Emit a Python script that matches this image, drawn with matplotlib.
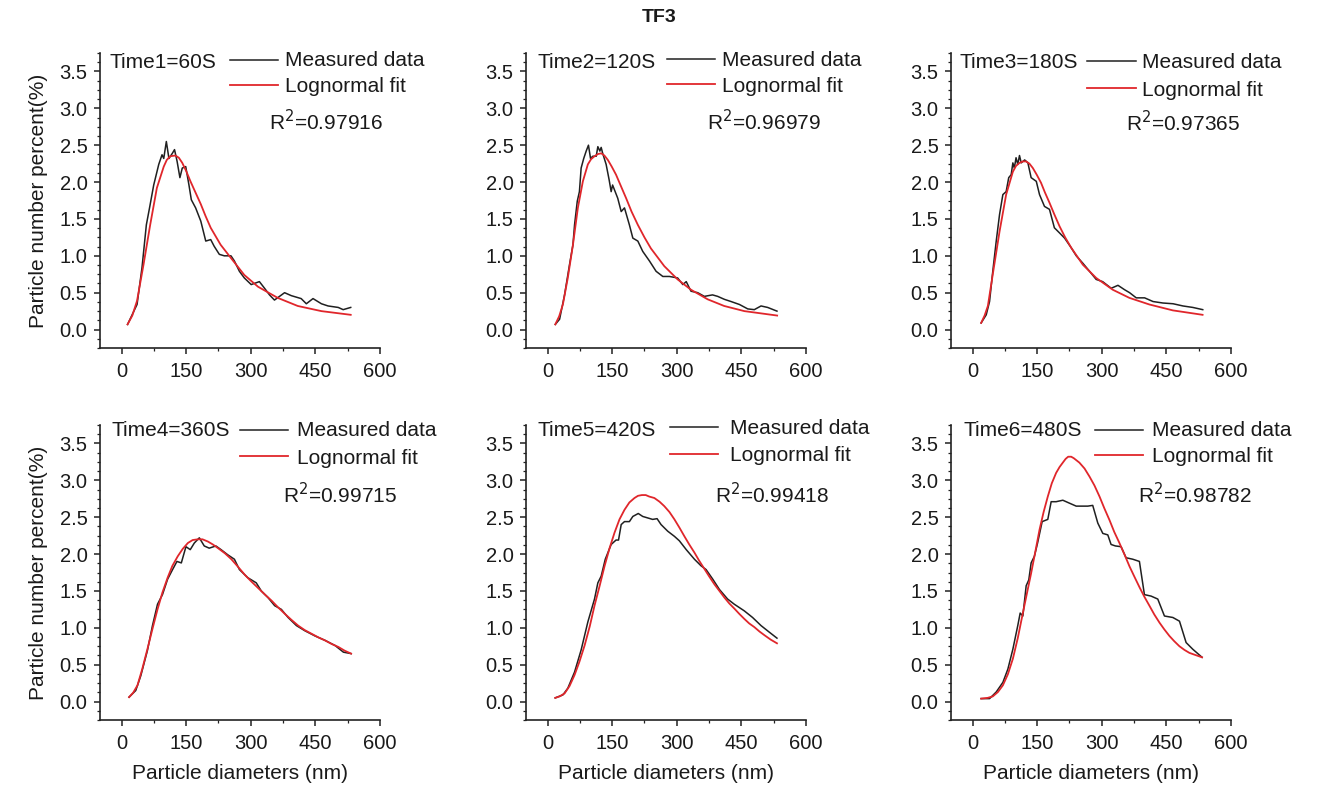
import matplotlib
matplotlib.use("Agg")
import matplotlib.pyplot as plt
from matplotlib.lines import Line2D
from matplotlib.ticker import MultipleLocator

plt.rcParams['font.family'] = ['Liberation Sans', 'DejaVu Sans']

W, H = 1318, 789

# ---------------- data ----------------
time_labels = ["Time1=60S", "Time2=120S", "Time3=180S", "Time4=360S", "Time5=420S", "Time6=480S"]
r2_values = ["0.97916", "0.96979", "0.97365", "0.99715", "0.99418", "0.98782"]

m1_x = [14, 36, 47.5, 57.6, 65, 74.7, 86.4, 94, 98, 104, 110, 118, 123, 129, 135.5, 141, 149, 156.5, 162, 172, 184,
        195.5, 207, 215, 227, 238.5, 254, 262, 273.6, 285, 301, 320, 332, 343.5, 355, 378.5, 394, 417, 429, 444.5,
        464, 479.5, 503, 514.5, 532]
m1_y = [0.07, 0.34, 0.84, 1.42, 1.65, 1.96, 2.24, 2.37, 2.32, 2.55, 2.32, 2.39, 2.44, 2.28, 2.06, 2.19, 2.21, 1.96,
        1.76, 1.65, 1.47, 1.20, 1.22, 1.13, 1.02, 1.00, 1.00, 0.93, 0.79, 0.70, 0.61, 0.65, 0.56, 0.47, 0.40, 0.50,
        0.46, 0.42, 0.35, 0.42, 0.35, 0.32, 0.30, 0.27, 0.30]
f1_x = [14, 25, 36, 51, 66.5, 82, 98, 105, 113, 125, 133, 141, 150, 160, 170, 184, 195, 207, 230, 254, 285, 317,
        362.5, 409, 464, 532]
f1_y = [0.07, 0.19, 0.39, 0.88, 1.42, 1.92, 2.21, 2.30, 2.35, 2.36, 2.33, 2.26, 2.15, 2.01, 1.88, 1.70, 1.54, 1.38,
        1.15, 0.97, 0.74, 0.58, 0.43, 0.32, 0.25, 0.20]

m2_x = [18, 28, 39.5, 51, 59, 62.7, 69, 74, 78, 84, 89.7, 95, 99.8, 105, 113, 116.8, 121.5, 124.5, 128, 136, 143,
        147.7, 151, 163, 171, 178.6, 190, 198, 209.6, 221, 236.6, 252, 267.6, 283, 302, 314, 322, 333, 348.6, 364,
        383, 395, 410.5, 426, 445.5, 464.8, 480, 495.6, 511, 532.6]
m2_y = [0.07, 0.14, 0.47, 0.88, 1.15, 1.42, 1.74, 1.87, 2.19, 2.32, 2.42, 2.50, 2.32, 2.35, 2.35, 2.48, 2.42, 2.47,
        2.39, 2.24, 2.03, 1.87, 1.96, 1.78, 1.60, 1.65, 1.42, 1.24, 1.20, 1.06, 0.93, 0.79, 0.72, 0.72, 0.70, 0.61,
        0.65, 0.52, 0.50, 0.45, 0.47, 0.45, 0.41, 0.38, 0.34, 0.28, 0.27, 0.32, 0.30, 0.25]
f2_x = [18, 27, 35.6, 47, 59, 70.4, 82, 93.6, 101, 109, 117, 124.5, 132, 140, 149, 159, 170, 182.5, 195, 209.6,
        225, 240, 271, 302, 333, 371.8, 410, 457, 533]
f2_y = [0.07, 0.18, 0.34, 0.70, 1.15, 1.65, 2.01, 2.24, 2.31, 2.35, 2.38, 2.39, 2.36, 2.30, 2.21, 2.10, 1.95, 1.78,
        1.60, 1.42, 1.25, 1.10, 0.86, 0.68, 0.54, 0.41, 0.32, 0.25, 0.19]

m3_x = [20, 31.8, 39.5, 47, 55, 62.7, 70.4, 78, 84, 89.7, 93.6, 97, 101, 105, 109, 113, 121, 128.5, 136, 148, 155.5,
        167, 178.6, 190, 202, 213.7, 229, 240.8, 256, 271.6, 287, 302, 322, 337.6, 353, 364.6, 380, 399.5, 419, 442,
        465.5, 488.5, 511.4, 534.4]
m3_y = [0.09, 0.20, 0.38, 0.79, 1.20, 1.56, 1.83, 1.87, 2.06, 2.10, 2.26, 2.19, 2.33, 2.24, 2.36, 2.26, 2.30, 2.26,
        2.06, 2.01, 1.83, 1.67, 1.63, 1.38, 1.31, 1.24, 1.11, 1.00, 0.90, 0.79, 0.68, 0.65, 0.56, 0.60, 0.54, 0.50,
        0.43, 0.43, 0.38, 0.36, 0.35, 0.32, 0.30, 0.27]
f3_x = [20, 28, 35.6, 47, 62.7, 78, 93.6, 101, 109, 117, 124.5, 132, 140, 149, 159, 168, 178.6, 190, 202, 215, 229,
        256, 287, 325.5, 364, 410.5, 465, 534]
f3_y = [0.09, 0.19, 0.32, 0.75, 1.33, 1.83, 2.14, 2.22, 2.26, 2.28, 2.28, 2.25, 2.19, 2.10, 1.99, 1.86, 1.72, 1.56,
        1.40, 1.25, 1.11, 0.88, 0.70, 0.54, 0.43, 0.34, 0.26, 0.20]

m4_x = [17.5, 33, 44.7, 60, 71.8, 83.5, 95, 107, 118.5, 128.6, 138.8, 149.5, 159.5, 169, 180.6, 192, 203.5, 219,
        231, 246.6, 262, 273.6, 293, 312.7, 324.4, 340, 355.5, 371, 386.6, 406, 425.6, 449, 472.4, 495.7, 515, 533]
m4_y = [0.06, 0.15, 0.35, 0.69, 1.03, 1.32, 1.45, 1.66, 1.79, 1.90, 1.88, 2.10, 2.06, 2.15, 2.22, 2.11, 2.08, 2.11,
        2.06, 1.99, 1.93, 1.79, 1.68, 1.61, 1.50, 1.41, 1.30, 1.25, 1.14, 1.03, 0.96, 0.89, 0.83, 0.76, 0.67, 0.65]
f4_x = [17.5, 27, 37, 48, 60, 72, 83.5, 95, 107, 118, 130.5, 142, 154, 165, 177, 188, 200.4, 212, 224, 240, 255,
        270, 286, 301, 317, 333, 348, 363, 379, 394, 410, 425, 441, 457, 472, 488, 503.5, 518, 533]
f4_y = [0.06, 0.12, 0.22, 0.44, 0.71, 0.99, 1.25, 1.48, 1.68, 1.84, 1.97, 2.07, 2.15, 2.19, 2.20, 2.20, 2.17, 2.13,
        2.08, 2.01, 1.93, 1.83, 1.72, 1.63, 1.54, 1.45, 1.37, 1.28, 1.19, 1.11, 1.03, 0.97, 0.92, 0.87, 0.83, 0.78,
        0.74, 0.69, 0.65]

m5_x = [17.9, 35.6, 47, 62.7, 78, 93.6, 109, 116.8, 124.5, 134, 147.7, 159, 164.8, 171, 178.6, 190, 198, 210.6, 221,
        232.5, 244, 254.3, 263.5, 279, 294.6, 306, 322, 341, 356.5, 368, 383.5, 399, 418, 433.5, 456.7, 476, 495.6,
        515, 532.6]
m5_y = [0.05, 0.09, 0.18, 0.40, 0.70, 1.08, 1.39, 1.61, 1.70, 1.93, 2.13, 2.19, 2.19, 2.40, 2.44, 2.44, 2.51, 2.55,
        2.51, 2.49, 2.47, 2.48, 2.40, 2.31, 2.24, 2.18, 2.06, 1.93, 1.84, 1.79, 1.66, 1.52, 1.39, 1.32, 1.23, 1.14,
        1.03, 0.94, 0.86]
f5_x = [17.9, 28, 39.5, 51, 62.7, 74, 86, 98, 109, 121, 132.5, 144, 155.5, 167, 178.6, 190, 201.8, 210, 219, 228,
        236, 248, 260, 271, 283, 294.6, 306, 317.8, 329, 341, 352, 364, 376, 387.4, 399, 410.6, 422, 433.8, 445, 457,
        468, 480, 492, 503.5, 518, 532.6]
f5_y = [0.05, 0.07, 0.11, 0.21, 0.36, 0.54, 0.76, 1.02, 1.30, 1.57, 1.84, 2.08, 2.29, 2.47, 2.60, 2.70, 2.76, 2.79,
        2.80, 2.80, 2.78, 2.76, 2.71, 2.65, 2.57, 2.47, 2.36, 2.24, 2.13, 2.02, 1.91, 1.80, 1.69, 1.59, 1.50, 1.41,
        1.33, 1.26, 1.19, 1.12, 1.06, 1.01, 0.95, 0.90, 0.84, 0.79]

m6_x = [20, 39.5, 55, 70.4, 82, 93.6, 105, 110.6, 116.8, 124.5, 130.6, 136, 143.6, 151, 161.6, 174.7, 182.5, 194,
        209.6, 225, 240.6, 256, 267.6, 279, 290.8, 302.4, 314, 321.6, 331.7, 344.8, 356.4, 372, 387.4, 399, 414.5,
        430, 445.5, 465, 480.4, 495.8, 511.2, 532.8]
m6_y = [0.04, 0.04, 0.13, 0.26, 0.44, 0.71, 1.03, 1.20, 1.16, 1.57, 1.65, 1.88, 1.97, 2.15, 2.44, 2.47, 2.71, 2.71,
        2.73, 2.69, 2.65, 2.65, 2.65, 2.66, 2.42, 2.28, 2.26, 2.13, 2.11, 2.10, 1.95, 1.93, 1.90, 1.45, 1.43, 1.39,
        1.16, 1.14, 1.09, 0.80, 0.71, 0.60]
f6_x = [20, 35, 47, 59, 70.4, 82, 93.6, 105, 116.8, 126, 136, 146, 155.5, 165, 174.7, 184, 194, 202, 209.6, 216,
        222, 229, 235, 248, 260, 271.6, 283, 294.8, 306, 318, 329, 341, 353, 364.6, 376, 387.6, 399, 410.6, 422, 434,
        445, 457, 468, 480.3, 492, 503.5, 518, 532.8]
f6_y = [0.04, 0.05, 0.07, 0.13, 0.22, 0.37, 0.58, 0.86, 1.20, 1.46, 1.74, 2.04, 2.33, 2.57, 2.78, 2.96, 3.10, 3.18,
        3.24, 3.29, 3.32, 3.32, 3.30, 3.24, 3.16, 3.05, 2.93, 2.78, 2.62, 2.46, 2.30, 2.15, 1.99, 1.83, 1.69, 1.55,
        1.42, 1.30, 1.18, 1.07, 0.98, 0.89, 0.82, 0.75, 0.70, 0.66, 0.63, 0.60]

measured = [(m1_x, m1_y), (m2_x, m2_y), (m3_x, m3_y), (m4_x, m4_y), (m5_x, m5_y), (m6_x, m6_y)]
fits = [(f1_x, f1_y), (f2_x, f2_y), (f3_x, f3_y), (f4_x, f4_y), (f5_x, f5_y), (f6_x, f6_y)]

x_ticks = [0, 150, 300, 450, 600]
y_ticks = [0.0, 0.5, 1.0, 1.5, 2.0, 2.5, 3.0, 3.5]

# ---------------- layout (pixel positions) ----------------
ax_left_px = [100, 526, 951]
ax_w_px = 280
row_top_px = [53, 425]
ax_h_px = 295

# legend layout per panel: time_x, time_y, line_x0, line_x1, meas_y, fit_y, text_x, r2_x, r2_y
leg = [
    (110, 62, 230, 278, 60, 85, 285, 269, 122),
    (537, 62, 667, 715, 59, 84, 722, 707, 122),
    (959, 62, 1087, 1136, 61, 88, 1142, 1126, 123),
    (112, 430, 240, 288, 430, 456, 297, 283, 495),
    (537, 430, 670, 718, 427, 454, 730, 715, 495),
    (963, 430, 1095, 1143, 430, 455, 1152, 1138, 495),
]

TXT = '#1a1a1a'
RED = '#e0262b'
FS = 15

fig = plt.figure(figsize=(W / 100, H / 100), dpi=100)
fig.patch.set_facecolor('white')


def fx(px):
    return px / W


def fy(py):
    return 1 - py / H


for i in range(6):
    r, c = divmod(i, 3)
    ax = fig.add_axes([fx(ax_left_px[c]), fy(row_top_px[r] + ax_h_px), ax_w_px / W, ax_h_px / H])
    mx, my = measured[i]
    ftx, fty = fits[i]
    ax.plot(mx, my, color='#202020', lw=1.1)
    ax.plot(ftx, fty, color=RED, lw=1.3)
    ax.set_xlim(-50, 600)
    ax.set_ylim(-0.25, 3.75)
    ax.set_xticks(x_ticks)
    ax.set_yticks(y_ticks)
    ax.set_yticklabels([f"{v:.1f}" for v in y_ticks])
    ax.xaxis.set_minor_locator(MultipleLocator(75))
    ax.yaxis.set_minor_locator(MultipleLocator(0.125))
    for s in ['top', 'right']:
        ax.spines[s].set_visible(False)
    for s in ['left', 'bottom']:
        ax.spines[s].set_linewidth(1.2)
        ax.spines[s].set_color('#222222')
    ax.tick_params(which='major', direction='out', length=4, width=1.1, labelsize=14.5, colors='#222222',
                   labelcolor=TXT)
    ax.tick_params(which='minor', direction='out', length=2, width=0.9, colors='#222222')
    ax.tick_params(axis='x', pad=6)
    ax.tick_params(axis='y', pad=5)
    if c == 0:
        ax.set_ylabel("Particle number percent(%)", fontsize=15, color=TXT, labelpad=8)
    if r == 1:
        ax.set_xlabel("Particle diameters (nm)", fontsize=15, color=TXT, labelpad=8)

    tx, ty, lx0, lx1, my_, fy_, ttx, r2x, r2y = leg[i]
    fig.text(fx(tx), fy(ty), time_labels[i], fontsize=FS, color=TXT, ha='left', va='center')
    fig.add_artist(Line2D([fx(lx0), fx(lx1)], [fy(my_), fy(my_)], color='#202020', lw=1.1))
    fig.add_artist(Line2D([fx(lx0), fx(lx1)], [fy(fy_), fy(fy_)], color=RED, lw=1.3))
    fig.text(fx(ttx), fy(my_ + 1), "Measured data", fontsize=FS, color=TXT, ha='left', va='center')
    fig.text(fx(ttx), fy(fy_ + 2), "Lognormal fit", fontsize=FS, color=TXT, ha='left', va='center')
    fig.text(fx(r2x), fy(r2y), r"R$^2$=" + r2_values[i], fontsize=FS, color=TXT, ha='left', va='center')

fig.text(0.5, fy(18), "TF3", fontsize=14, fontweight='bold', color=TXT, ha='center', va='center')

fig.savefig("out.png", dpi=100, facecolor='white')
